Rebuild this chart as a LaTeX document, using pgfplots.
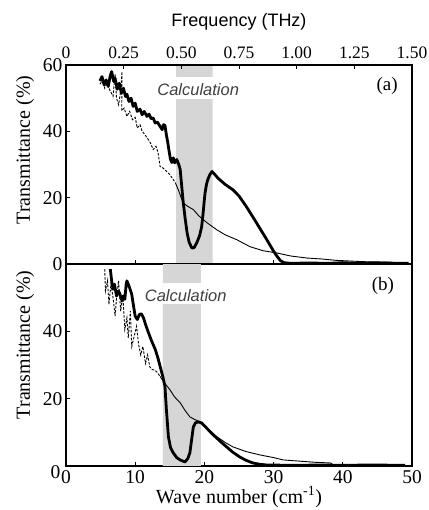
\documentclass[border=0pt]{standalone}
\usepackage{fontspec}
\setmainfont{Liberation Serif}
\newfontfamily\sansf{Liberation Sans}
\usepackage{pgfplots}
\pgfplotsset{compat=1.18}
\definecolor{bandgray}{HTML}{D6D6D6}
\definecolor{calcgray}{HTML}{404040}

\tikzset{
  calctext/.style={font=\sansf\itshape\fontsize{16.5}{17}\selectfont, text=calcgray},
  thick curve/.style={black, line width=2.8pt, line join=round},
  thin curve/.style={black, line width=0.9pt, line join=round},
  dash curve/.style={black, line width=0.9pt, dash pattern=on 2.5pt off 1.5pt},
}
\pgfplotsset{
  panel/.style={
    scale only axis, width=346pt,
    xmin=0, xmax=50, ymin=0, ymax=60,
    axis line style={line width=1.1pt},
    tick style={line width=0.9pt, black},
    major tick length=4pt,
    tick align=inside,
    xtick pos=bottom, ytick pos=left,
    xtick={0,10,20,30,40,50},
    /pgf/number format/assume math mode=true,
    tick label style={font=\fontsize{19.5}{20}\selectfont},
    ylabel={Transmittance (\%)},
    label style={font=\fontsize{20}{21}\selectfont},
    clip=true,
  },
}

\begin{document}
\begin{tikzpicture}
\useasboundingbox (0,0) rectangle (428pt,510pt);

% ---------- panel (a) ----------
\begin{axis}[panel, at={(66pt,246pt)}, anchor=south west, height=199pt,
  ytick={0,20,40,60}, xticklabels={},
  ylabel style={at={(axis description cs:-0.1185,0.573)}, anchor=center},
]
\addplot[fill=bandgray, draw=none] coordinates {(15.9,0) (21.2,0) (21.2,49.7) (15.9,49.7)} \closedcycle;
\addplot[fill=bandgray, draw=none] coordinates {(15.9,56.4) (21.2,56.4) (21.2,60) (15.9,60)} \closedcycle;
\node[calctext] at (axis cs:19.1,52.6) {Calculation};
\node[font=\fontsize{19}{19}\selectfont] at (axis cs:46.4,53.6) {(a)};

% reference curve, noisy dashed part
\addplot[dash curve] coordinates {
 (4.9,54.2) (5.3,55.5) (5.6,53) (6.0,55) (6.3,52.5) (6.8,50.6) (7.1,57.3) (7.3,50)
 (7.6,48) (7.9,52) (8.1,58) (8.05,46.2) (8.4,47) (8.8,44.5) (9.2,46) (9.6,43.5)
 (10.0,44.2) (10.3,41) (10.7,42) (11.0,40) (11.4,39) (11.9,37.5) (12.2,36.5)
 (12.6,34.5) (13.0,35.5) (13.3,33.6) (13.6,29.4) (14.0,29) (14.5,28) (15.0,27) (15.8,24.5)
};
\addplot[thin curve] coordinates {
 (15.8,24.5) (16.3,22) (16.9,18.5) (17.5,17.5) (18.4,16.4) (19.2,14.5) (20.4,12.4)
 (21.8,10.3) (23.0,8.8) (24.7,7.3) (26.6,5.2) (28.5,4.0) (30.5,3.3) (32.5,2.4)
 (34.8,1.8) (37,1.5) (39,1.1) (41,0.9) (43,0.7) (45.8,0.6) (49.3,0.3)
};
% sample curve
\addplot[thick curve] coordinates {
 (4.9,55.2) (5.2,56.5) (5.5,54) (5.8,55.5) (6.1,53.5) (6.4,56.8) (6.6,58) (6.9,55)
 (7.1,56) (7.4,52.7) (7.7,54.5) (8.0,51.5) (8.3,53) (8.6,50.5) (8.8,51.2) (9.1,49)
 (9.4,50) (9.7,47.5) (10.0,48.5) (10.3,46) (10.7,46.7) (11.0,45) (11.3,46) (11.7,44.5)
 (12.0,45.2) (12.3,43.8) (12.6,44) (12.9,42.5) (13.2,42.8) (13.6,41.5) (13.9,40.5)
 (14.1,42) (14.3,41.8) (14.5,39) (14.7,36.7) (14.9,34) (15.1,31.5) (15.3,30.6)
 (15.5,32) (15.7,30.5) (16.0,31.5) (16.3,30) (16.5,28.5) (16.7,24) (16.9,19.4)
 (17.2,14) (17.5,9.4) (17.8,6.5) (18.2,4.8) (18.5,4.9) (18.9,6.4) (19.3,8.5)
 (19.6,11.2) (19.8,15) (20.0,19.5) (20.1,21.5) (20.3,24) (20.5,25.5) (20.8,27)
 (21.1,27.9) (21.5,27) (22.0,25.8) (23.0,24) (24.1,22.4) (25.0,20.5) (26.0,17.5)
 (27.0,14.2) (28.0,10.8) (29.0,7.4) (29.9,4.2) (30.5,2.3) (31.0,1.0) (31.5,0.4)
 (32.4,0.2) (35,0.3) (38,0.2) (40,0.4) (42,0.2) (45,0.3) (49.5,0.2)
};
\end{axis}

% ---------- frequency axis on top ----------
\begin{axis}[scale only axis, width=346pt, height=199pt,
  at={(66pt,246pt)}, anchor=south west,
  xmin=0, xmax=1.5, ymin=0, ymax=1,
  axis x line*=top, axis y line=none,
  axis line style={line width=1.1pt},
  tick style={line width=0.9pt, black},
  major tick length=4pt, tick align=inside,
  xtick={0,0.25,0.5,0.75,1,1.25,1.5},
  xticklabels={0,0.25,0.50,0.75,1.00,1.25,1.50},
  tick label style={font=\fontsize{17.5}{18}\selectfont},
  xticklabel style={yshift=2.5pt},
  xlabel={\sansf Frequency (THz)},
  xlabel style={font=\fontsize{18}{19}\selectfont, at={(axis description cs:0.5,1.216)}, anchor=center},
]
\end{axis}

% ---------- panel (b) ----------
\begin{axis}[panel, at={(66pt,44pt)}, anchor=south west, height=202pt,
  ytick={20,40},
  extra y ticks={0},
  extra y tick style={yticklabel style={yshift=-6pt, xshift=-2pt}},
  xlabel={Wave number (cm\textsuperscript{-1})},
  xlabel style={at={(axis description cs:0.5,-0.153)}, anchor=center},
  xticklabel style={yshift=-1pt},
  ylabel style={at={(axis description cs:-0.1185,0.6)}, anchor=center},
]
\addplot[fill=bandgray, draw=none] coordinates {(14.0,0) (19.5,0) (19.5,48.1) (14.0,48.1)} \closedcycle;
\addplot[fill=bandgray, draw=none] coordinates {(14.0,54.3) (19.5,54.3) (19.5,60) (14.0,60)} \closedcycle;
\node[calctext] at (axis cs:17.3,50.6) {Calculation};
\node[font=\fontsize{19}{19}\selectfont] at (axis cs:45.8,53.4) {(b)};

\addplot[dash curve] coordinates {
 (5.6,58.5) (5.7,52) (6.0,55) (6.2,48) (6.5,54) (6.8,50) (7.1,44.5) (7.3,50)
 (7.6,55) (7.9,46) (8.2,51) (8.5,40.6) (8.8,44) (9.0,38) (9.3,46) (9.5,35.5)
 (10.2,41.5) (10.5,36) (10.8,33) (11.1,35.5) (11.5,30.5) (11.8,33) (12.1,29.5)
 (12.4,28.7) (12.8,28.5) (13.2,27.8) (13.6,26.6)
};
\addplot[thin curve] coordinates {
 (13.6,26.6) (14.3,24.5) (15.0,22.7) (15.7,20.5) (16.5,18.8) (17.2,16.5) (17.9,14.6)
 (18.6,13.8) (19.4,13.1) (20.5,11) (21.8,8.7) (23.0,7.0) (24.1,5.7) (26.0,4.3)
 (28.0,3.3) (30.0,2.5) (31.4,1.8) (34.0,1.4) (36.0,1.1) (38.2,0.9) (38.6,0.4)
 (42,0.3) (46,0.3) (49,0.2)
};
\addplot[thick curve] coordinates {
 (6.4,58.5) (6.6,55) (6.8,52.5) (7.0,54) (7.3,50.5) (7.6,52) (7.8,51) (8.1,49)
 (8.3,50.5) (8.5,49.5) (8.7,54) (8.8,55) (9.1,53.5) (9.5,51) (9.8,47) (10.0,44.5)
 (10.3,43.5) (10.6,45) (10.9,45.2) (11.2,44) (11.5,42) (11.9,39.7) (12.3,37.5)
 (12.9,34.6) (13.3,32) (13.6,29.6) (14.0,26.5) (14.3,23.6) (14.5,17) (14.8,8.7)
 (15.1,5.5) (15.5,3.9) (16.0,2.5) (16.5,1.8) (17.2,1.2) (17.6,2.2) (17.9,3.9)
 (18.1,7) (18.4,11.6) (18.7,12.8) (19.1,13.1) (19.6,12.8) (20.3,11.3) (21.3,9.2)
 (22.2,7.5) (23.2,5.7) (24.1,4.1) (25.1,2.7) (26.0,1.7) (27.0,0.9) (28.0,0.5)
 (29.0,0.3) (33,0.2) (37,0.3) (40,0.2) (44,0.3) (49,0.2)
};
\end{axis}
\end{tikzpicture}
\end{document}
